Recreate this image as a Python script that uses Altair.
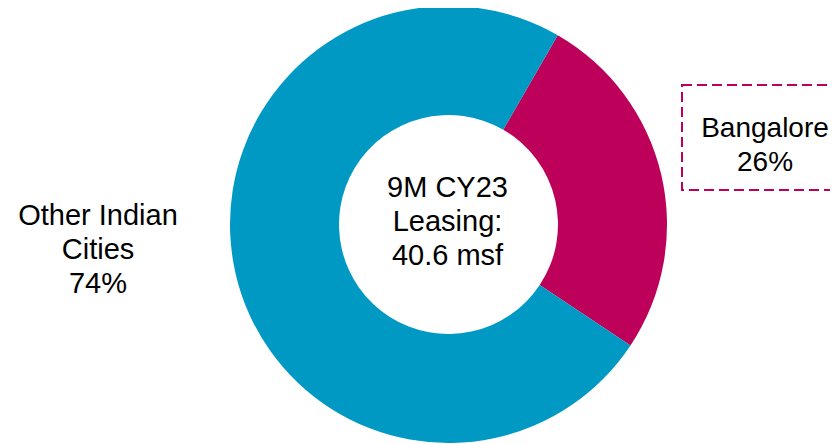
import altair as alt
import pandas as pd
import math

categories = ["Bangalore", "Other Indian Cities"]
shares = [26, 74]
colors = ["#BD0059", "#0099C4"]
center_text = ["9M CY23", "Leasing:", "40.6 msf"]
bangalore_label = ["Bangalore", "26%"]
other_label = ["Other Indian", "Cities", "74%"]

start = math.radians(30)

df = pd.DataFrame({"cat": categories, "share": shares, "ord": [0, 1]})

CX, CY = 440.5, 216.5

pie = alt.Chart(df).mark_arc(outerRadius=218.5, innerRadius=109.5, stroke=None).encode(
    theta=alt.Theta("share:Q", stack=True, scale=alt.Scale(range=[start, start + 2 * math.pi])),
    color=alt.Color("cat:N", scale=alt.Scale(domain=categories, range=colors), legend=None),
    order=alt.Order("ord:Q"),
    x=alt.value(CX),
    y=alt.value(CY),
)

FONT = "Liberation Sans"

def label(lines, x, y, size=29):
    d = pd.DataFrame({"t": [lines]})
    return alt.Chart(d).mark_text(
        font=FONT, fontSize=size, lineHeight=34, align="center", baseline="middle", color="#000000"
    ).encode(text="t", x=alt.value(x), y=alt.value(y))

box = alt.Chart(pd.DataFrame({"a": [0]})).mark_rect(
    fill=None, fillOpacity=0, stroke="#BD0059", strokeWidth=2, strokeDash=[10, 5]
).encode(x=alt.value(674), x2=alt.value(840), y=alt.value(77), y2=alt.value(182))

chart = alt.layer(
    pie,
    box,
    label(center_text, 439.5, 180),
    label(bangalore_label, 757, 121, 28),
    label(other_label, 90, 208),
).properties(width=822, height=436, padding=0, autosize=alt.AutoSizeParams(type="none")).configure_view(stroke=None)

chart.save("out.html", embed_options={"renderer": "svg", "actions": False})
